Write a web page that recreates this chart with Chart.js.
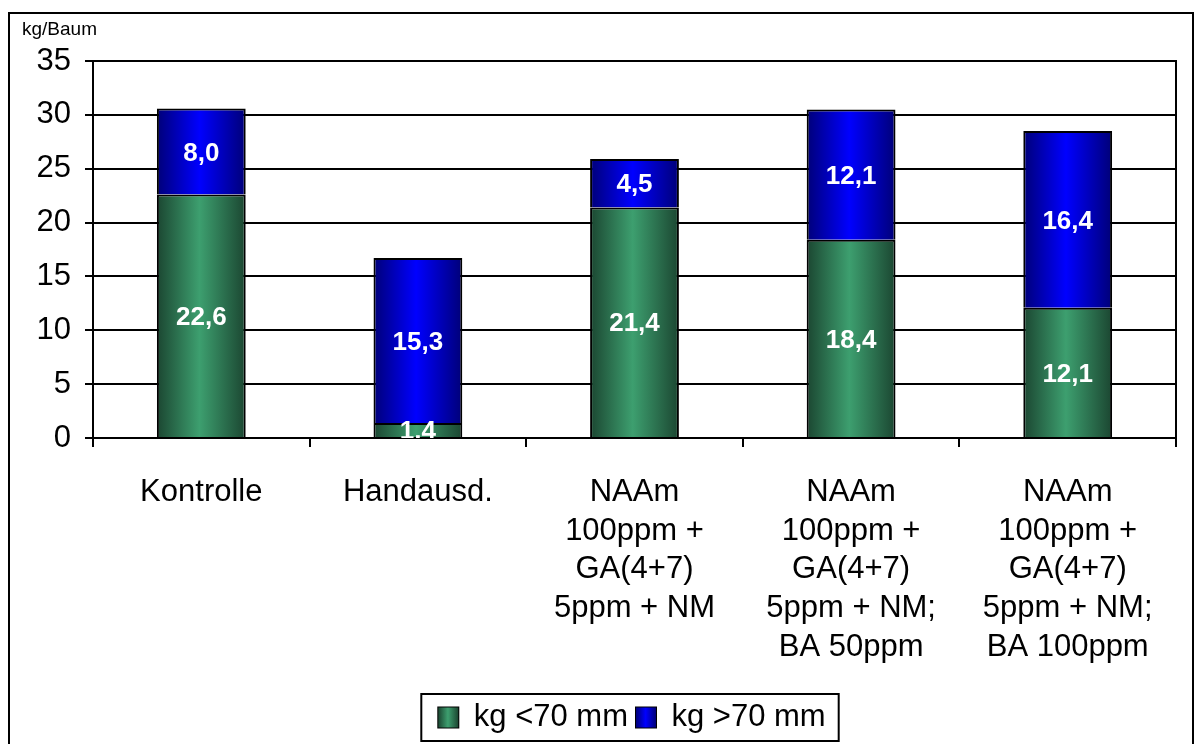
<!DOCTYPE html>
<html>
<head>
<meta charset="utf-8">
<script src="https://cdn.jsdelivr.net/npm/chart.js@4.4.1/dist/chart.umd.min.js"></script>
<style>
  html, body { margin: 0; padding: 0; background: #fff; }
  #wrap { width: 1196px; height: 744px; }
</style>
</head>
<body>
<div id="wrap"><canvas id="chart" width="1196" height="744"></canvas></div>
<script>
const categories = [
  ["Kontrolle"],
  ["Handausd."],
  ["NAAm", "100ppm +", "GA(4+7)", "5ppm + NM"],
  ["NAAm", "100ppm +", "GA(4+7)", "5ppm + NM;", "BA 50ppm"],
  ["NAAm", "100ppm +", "GA(4+7)", "5ppm + NM;", "BA 100ppm"],
];
const small = [22.6, 1.4, 21.4, 18.4, 12.1];
const large = [8.0, 15.3, 4.5, 12.1, 16.4];
const seriesNames = ["kg <70 mm", "kg >70 mm"];
const yTicks = [0, 5, 10, 15, 20, 25, 30, 35];

const greenStops = ["#1b4631", "#3d9f6f", "#1b4631"];
const blueStops = ["#000078", "#0000ff", "#000078"];

function barGradient(ctx, x0, x1, stops) {
  const g = ctx.createLinearGradient(x0, 0, x1, 0);
  g.addColorStop(0, stops[0]);
  g.addColorStop(0.48, stops[1]);
  g.addColorStop(1, stops[2]);
  return g;
}

function fillFor(stops) {
  return (c) => {
    const chart = c.chart;
    const xs = chart.scales.x;
    if (!chart.chartArea || !xs || c.dataIndex === undefined) return stops[1];
    const cx = xs.getPixelForValue(c.dataIndex);
    const half = (xs.width / categories.length) * 0.41 / 2;
    return barGradient(chart.ctx, cx - half, cx + half, stops);
  };
}

const decor = {
  id: "decor",
  afterUpdate(chart) {
    // legend sits a bit right of centre in the original
    const lg = chart.legend;
    if (!lg) return;
    lg.left += 44;
    lg.right += 44;
    (lg.legendHitBoxes || []).forEach((b) => { b.left += 44; });
  },
  beforeDraw(chart) {
    const ctx = chart.ctx;
    ctx.save();
    ctx.strokeStyle = "#000";
    ctx.lineWidth = 2;
    ctx.strokeRect(9, 13, 1184, 760);
    ctx.fillStyle = "#000";
    ctx.font = "19px 'Liberation Sans', Arial, sans-serif";
    ctx.textBaseline = "alphabetic";
    ctx.fillText("kg/Baum", 22, 35);
    ctx.restore();
  },
  afterDatasetsDraw(chart) {
    const ctx = chart.ctx;
    const a = chart.chartArea;
    ctx.save();
    ctx.beginPath();
    ctx.rect(a.left, a.top, a.right - a.left, a.bottom - a.top);
    ctx.clip();
    ctx.fillStyle = "#fff";
    ctx.font = "bold 26px 'Liberation Sans', Arial, sans-serif";
    ctx.textAlign = "center";
    ctx.textBaseline = "middle";
    chart.data.datasets.forEach((ds, i) => {
      const meta = chart.getDatasetMeta(i);
      meta.data.forEach((el, j) => {
        const y = (el.y + el.base) / 2;
        ctx.fillText(ds.data[j].toFixed(1).replace(".", ","), el.x, y + 2);
      });
    });
    ctx.restore();
    // right frame of plot area
    ctx.save();
    ctx.strokeStyle = "#000";
    ctx.lineWidth = 2;
    ctx.beginPath();
    ctx.moveTo(a.right, a.top - 1);
    ctx.lineTo(a.right, a.bottom);
    ctx.stroke();
    ctx.restore();
  },
  afterDraw(chart) {
    const lg = chart.legend;
    if (!lg || !lg.legendHitBoxes || !lg.legendHitBoxes.length) return;
    const ctx = chart.ctx;
    const boxes = lg.legendHitBoxes;
    const first = boxes[0];
    const last = boxes[boxes.length - 1];
    ctx.save();
    boxes.forEach((b, i) => {
      const stops = i === 0 ? greenStops : blueStops;
      const by = b.top + (b.height - 20) / 2;
      ctx.fillStyle = barGradient(ctx, b.left, b.left + 20, stops);
      ctx.fillRect(b.left, by, 20, 20);
    });
    ctx.strokeStyle = "#000";
    ctx.lineWidth = 2;
    ctx.strokeRect(first.left - 17, first.top - 8, last.left + last.width - first.left + 30, first.height + 16);
    ctx.restore();
  },
};

new Chart(document.getElementById("chart"), {
  type: "bar",
  data: {
    labels: categories,
    datasets: [
      {
        label: seriesNames[0],
        data: small,
        backgroundColor: fillFor(greenStops),
        borderColor: "#000",
        borderWidth: 2,
        barPercentage: 0.41,
        categoryPercentage: 1,
      },
      {
        label: seriesNames[1],
        data: large,
        backgroundColor: fillFor(blueStops),
        borderColor: "#000",
        borderWidth: 2,
        barPercentage: 0.41,
        categoryPercentage: 1,
      },
    ],
  },
  plugins: [decor],
  options: {
    responsive: false,
    animation: false,
    layout: {
      padding: { top: 61, right: 20, left: 0, bottom: 1 },
    },
    plugins: {
      tooltip: { enabled: false },
      legend: {
        position: "bottom",
        labels: {
          color: "#000",
          boxWidth: 20,
          boxHeight: 20,
          padding: 8,
          font: { size: 31, family: "'Liberation Sans', Arial, sans-serif" },
        },
      },
    },
    scales: {
      x: {
        stacked: true,
        grid: {
          offset: true,
          drawOnChartArea: false,
          drawTicks: true,
          tickLength: 9,
          color: "#000",
          lineWidth: 2,
        },
        border: { display: true, color: "#000", width: 2 },
        ticks: {
          color: "#000",
          padding: 26,
          maxRotation: 0,
          autoSkip: false,
          font: { size: 31, family: "'Liberation Sans', Arial, sans-serif", lineHeight: 1.25 },
        },
        afterFit: (s) => { s.height = 256; },
      },
      y: {
        stacked: true,
        min: 0,
        max: 35,
        afterBuildTicks: (s) => { s.ticks = yTicks.map((v) => ({ value: v })); },
        grid: { color: "#000", lineWidth: 2, tickLength: 8 },
        border: { display: true, color: "#000", width: 2 },
        ticks: {
          color: "#000",
          padding: 14,
          font: { size: 31, family: "'Liberation Sans', Arial, sans-serif" },
        },
        afterFit: (s) => { s.width = 93; },
      },
    },
  },
});
</script>
</body>
</html>
